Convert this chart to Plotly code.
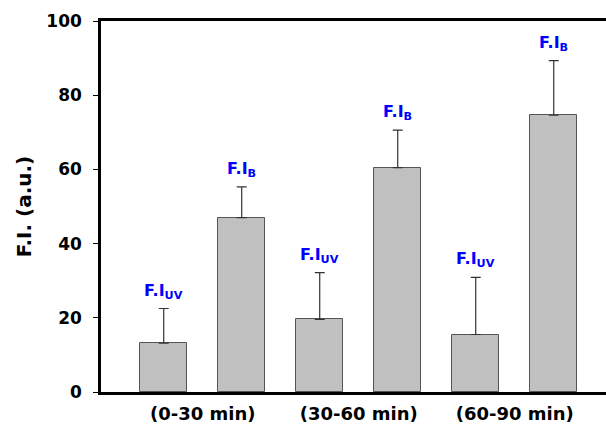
import plotly.graph_objects as go

categories = ["(0-30 min)", "(30-60 min)", "(60-90 min)"]
fi_uv = [13.2, 19.6, 15.5]
fi_uv_err = [9.3, 12.6, 15.4]
fi_b = [47.0, 60.5, 74.6]
fi_b_err = [8.3, 10.1, 14.7]
y_ticks = [0, 20, 40, 60, 80, 100]

# interleave: UV then B in each time window
x_pos, vals, errs, labels = [], [], [], []
for i in range(len(categories)):
    x_pos += [2 * i + 1, 2 * i + 2]
    vals += [fi_uv[i], fi_b[i]]
    errs += [fi_uv_err[i], fi_b_err[i]]
    labels += ["F.I<sub>UV</sub>", "F.I<sub>B</sub>"]

FONT = "DejaVu Sans, Arial, sans-serif"

fig = go.Figure()
fig.add_trace(go.Bar(
    x=x_pos, y=vals, width=0.6,
    marker=dict(color="#C0C0C0", line=dict(color="#555555", width=1)),
    error_y=dict(type="data", array=errs, arrayminus=[0] * len(errs),
                 symmetric=False, color="#333333", thickness=1.2, width=5),
    showlegend=False,
))

for xp, v, e, t in zip(x_pos, vals, errs, labels):
    fig.add_annotation(x=xp, y=v + e, text=t, showarrow=False,
                       yanchor="bottom", yshift=5,
                       font=dict(family=FONT, size=16, color="#0000FF", weight="bold"))

fig.update_layout(
    width=606, height=425,
    margin=dict(l=101, r=0, t=21, b=33),
    plot_bgcolor="white", paper_bgcolor="white",
    bargap=0,
)
fig.update_xaxes(
    range=[0.196, 6.67],
    tickvals=[1.5, 3.5, 5.5], ticktext=categories,
    ticks="", showgrid=False, zeroline=False,
    showline=True, linecolor="black", linewidth=2.5, mirror=True,
    tickfont=dict(family=FONT, size=18, color="black", weight="bold"),
    ticklabelstandoff=4,
)
fig.update_yaxes(
    range=[0, 100], tickvals=y_ticks,
    ticks="outside", ticklen=5, tickwidth=1, tickcolor="black",
    showgrid=False, zeroline=False,
    showline=True, linecolor="black", linewidth=2.5, mirror=False,
    tickfont=dict(family=FONT, size=17, color="black", weight="bold"),
    ticklabelstandoff=8,
    title=dict(text="F.I. (a.u.)", standoff=10,
               font=dict(family=FONT, size=20, color="black", weight="bold")),
)

fig.write_html("out.html", config={"displayModeBar": False},
               post_script="document.body.style.margin='0';document.body.style.overflow='hidden';")
